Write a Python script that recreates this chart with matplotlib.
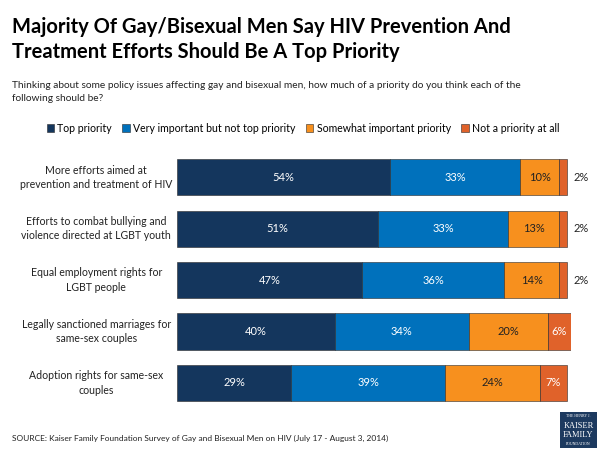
import matplotlib.pyplot as plt
from matplotlib.patches import Rectangle

categories = [
    "More efforts aimed at\nprevention and treatment of HIV",
    "Efforts to combat bullying and\nviolence directed at LGBT youth",
    "Equal employment rights for\nLGBT people",
    "Legally sanctioned marriages for\nsame-sex couples",
    "Adoption rights for same-sex\ncouples",
]
series_names = [
    "Top priority",
    "Very important but not top priority",
    "Somewhat important priority",
    "Not a priority at all",
]
top_priority = [54, 51, 47, 40, 29]
very_important = [33, 33, 36, 34, 39]
somewhat = [10, 13, 14, 20, 24]
not_priority = [2, 2, 2, 6, 7]

colors = ["#14365d", "#0071bc", "#f7901e", "#e0622a"]
text_colors = ["white", "white", "#222222", "white"]

plt.rcParams["font.family"] = ["Lato", "DejaVu Sans"]

fig = plt.figure(figsize=(6, 4.5), dpi=100)
ax = fig.add_axes([0.295, 0.0917, 0.657, 0.572])

values = [top_priority, very_important, somewhat, not_priority]
ypos = list(range(len(categories)))
left = [0] * len(categories)
for vals, name, col, tc in zip(values, series_names, colors, text_colors):
    ax.barh(ypos, vals, left=left, height=0.7, color=col, label=name,
            edgecolor="#2a2a2a", linewidth=0.4)
    for y, l, v in zip(ypos, left, vals):
        if v >= 5:
            ax.text(l + v / 2, y, f"{v}%", ha="center", va="center",
                    color=tc, fontsize=8)
        else:
            ax.text(l + v + 1.7, y, f"{v}%", ha="left", va="center",
                    color="#222222", fontsize=8)
    left = [a + b for a, b in zip(left, vals)]

ax.set_xlim(0, 100)
ax.set_ylim(len(categories) - 0.5, -0.5)
ax.set_xticks([])
ax.set_yticks([])
for s in ax.spines.values():
    s.set_visible(False)

for y, cat in zip(ypos, categories):
    ax.text(-20.5, y, cat, ha="center", va="center", fontsize=7.6,
            color="#222222", multialignment="center", linespacing=1.35)

fig.text(0.02, 0.913, "Majority Of Gay/Bisexual Men Say HIV Prevention And\n"
         "Treatment Efforts Should Be A Top Priority",
         fontsize=14.5, fontweight="bold", va="center", ha="left",
         linespacing=1.3)
fig.text(0.02, 0.795, "Thinking about some policy issues affecting gay and bisexual men, "
         "how much of a priority do you think each of the\nfollowing should be?",
         fontsize=7.25, va="center", ha="left", color="#222222", linespacing=1.6)

handles, labels = ax.get_legend_handles_labels()
fig.legend(handles, labels, loc="center", bbox_to_anchor=(0.505, 0.715), ncol=4,
           frameon=False, fontsize=7.6, handlelength=0.7, handleheight=0.7,
           handletextpad=0.3, columnspacing=1.0)

fig.text(0.02, 0.018, "SOURCE: Kaiser Family Foundation Survey of Gay and Bisexual Men "
         "on HIV (July 17 - August 3, 2014)", fontsize=6.0, color="#222222",
         va="bottom", ha="left")

# logo box
fig.patches.append(Rectangle((0.933, 0.005), 0.062, 0.08, transform=fig.transFigure,
                             facecolor="#1d3a5f", edgecolor="none"))
fig.text(0.964, 0.075, "THE HENRY J.", fontsize=2.8, color="white", ha="center",
         va="center", family="Liberation Serif")
fig.text(0.964, 0.054, "KAISER", fontsize=6, color="white", ha="center",
         va="center", family="Liberation Serif")
fig.text(0.964, 0.033, "FAMILY", fontsize=6, color="white", ha="center",
         va="center", family="Liberation Serif")
fig.text(0.964, 0.014, "FOUNDATION", fontsize=2.8, color="white", ha="center",
         va="center", family="Liberation Serif")

fig.savefig("out.png", dpi=100)
